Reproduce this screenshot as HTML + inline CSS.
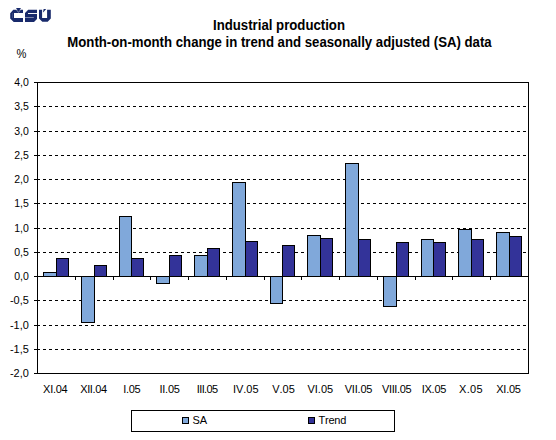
<!DOCTYPE html>
<html><head><meta charset="utf-8"><style>
html,body{margin:0;padding:0;background:#fff;width:556px;height:440px;overflow:hidden}
svg{display:block}
text{font-family:"Liberation Sans",sans-serif;font-size:11px;fill:#000;font-kerning:none}
.t{font-size:14.0px;font-weight:bold}
</style></head><body>
<svg width="556" height="440" viewBox="0 0 556 440">
<rect x="0" y="0" width="556" height="440" fill="#fff"/>
<g shape-rendering="crispEdges">
<line x1="37" y1="106.5" x2="528" y2="106.5" stroke="#000" stroke-width="1" stroke-dasharray="3 3"/>
<line x1="37" y1="131.5" x2="528" y2="131.5" stroke="#000" stroke-width="1" stroke-dasharray="3 3"/>
<line x1="37" y1="155.5" x2="528" y2="155.5" stroke="#000" stroke-width="1" stroke-dasharray="3 3"/>
<line x1="37" y1="179.5" x2="528" y2="179.5" stroke="#000" stroke-width="1" stroke-dasharray="3 3"/>
<line x1="37" y1="203.5" x2="528" y2="203.5" stroke="#000" stroke-width="1" stroke-dasharray="3 3"/>
<line x1="37" y1="228.5" x2="528" y2="228.5" stroke="#000" stroke-width="1" stroke-dasharray="3 3"/>
<line x1="37" y1="252.5" x2="528" y2="252.5" stroke="#000" stroke-width="1" stroke-dasharray="3 3"/>
<line x1="37" y1="276.5" x2="528" y2="276.5" stroke="#000" stroke-width="1" stroke-dasharray="3 3"/>
<line x1="37" y1="300.5" x2="528" y2="300.5" stroke="#000" stroke-width="1" stroke-dasharray="3 3"/>
<line x1="37" y1="325.5" x2="528" y2="325.5" stroke="#000" stroke-width="1" stroke-dasharray="3 3"/>
<line x1="37" y1="349.5" x2="528" y2="349.5" stroke="#000" stroke-width="1" stroke-dasharray="3 3"/>
<rect x="43" y="272" width="14" height="5" fill="#000"/>
<rect x="44" y="273" width="12" height="3" fill="#80A8DA"/>
<rect x="56" y="258" width="13" height="19" fill="#000"/>
<rect x="57" y="259" width="11" height="17" fill="#333399"/>
<rect x="81" y="276" width="14" height="47" fill="#000"/>
<rect x="82" y="277" width="12" height="45" fill="#80A8DA"/>
<rect x="94" y="265" width="13" height="12" fill="#000"/>
<rect x="95" y="266" width="11" height="10" fill="#333399"/>
<rect x="119" y="216" width="13" height="61" fill="#000"/>
<rect x="120" y="217" width="11" height="59" fill="#80A8DA"/>
<rect x="131" y="258" width="13" height="19" fill="#000"/>
<rect x="132" y="259" width="11" height="17" fill="#333399"/>
<rect x="156" y="276" width="14" height="8" fill="#000"/>
<rect x="157" y="277" width="12" height="6" fill="#80A8DA"/>
<rect x="169" y="255" width="13" height="22" fill="#000"/>
<rect x="170" y="256" width="11" height="20" fill="#333399"/>
<rect x="194" y="255" width="14" height="22" fill="#000"/>
<rect x="195" y="256" width="12" height="20" fill="#80A8DA"/>
<rect x="207" y="248" width="13" height="29" fill="#000"/>
<rect x="208" y="249" width="11" height="27" fill="#333399"/>
<rect x="232" y="182" width="14" height="95" fill="#000"/>
<rect x="233" y="183" width="12" height="93" fill="#80A8DA"/>
<rect x="245" y="241" width="13" height="36" fill="#000"/>
<rect x="246" y="242" width="11" height="34" fill="#333399"/>
<rect x="270" y="276" width="13" height="28" fill="#000"/>
<rect x="271" y="277" width="11" height="26" fill="#80A8DA"/>
<rect x="282" y="245" width="13" height="32" fill="#000"/>
<rect x="283" y="246" width="11" height="30" fill="#333399"/>
<rect x="307" y="235" width="14" height="42" fill="#000"/>
<rect x="308" y="236" width="12" height="40" fill="#80A8DA"/>
<rect x="320" y="238" width="13" height="39" fill="#000"/>
<rect x="321" y="239" width="11" height="37" fill="#333399"/>
<rect x="345" y="163" width="14" height="114" fill="#000"/>
<rect x="346" y="164" width="12" height="112" fill="#80A8DA"/>
<rect x="358" y="239" width="13" height="38" fill="#000"/>
<rect x="359" y="240" width="11" height="36" fill="#333399"/>
<rect x="383" y="276" width="14" height="31" fill="#000"/>
<rect x="384" y="277" width="12" height="29" fill="#80A8DA"/>
<rect x="396" y="242" width="13" height="35" fill="#000"/>
<rect x="397" y="243" width="11" height="33" fill="#333399"/>
<rect x="421" y="239" width="13" height="38" fill="#000"/>
<rect x="422" y="240" width="11" height="36" fill="#80A8DA"/>
<rect x="433" y="242" width="13" height="35" fill="#000"/>
<rect x="434" y="243" width="11" height="33" fill="#333399"/>
<rect x="458" y="229" width="14" height="48" fill="#000"/>
<rect x="459" y="230" width="12" height="46" fill="#80A8DA"/>
<rect x="471" y="239" width="13" height="38" fill="#000"/>
<rect x="472" y="240" width="11" height="36" fill="#333399"/>
<rect x="496" y="232" width="14" height="45" fill="#000"/>
<rect x="497" y="233" width="12" height="43" fill="#80A8DA"/>
<rect x="509" y="236" width="13" height="41" fill="#000"/>
<rect x="510" y="237" width="11" height="39" fill="#333399"/>
<rect x="37" y="276" width="492" height="1" fill="#000"/>
<rect x="75" y="277" width="1" height="3" fill="#000"/>
<rect x="113" y="277" width="1" height="3" fill="#000"/>
<rect x="150" y="277" width="1" height="3" fill="#000"/>
<rect x="188" y="277" width="1" height="3" fill="#000"/>
<rect x="226" y="277" width="1" height="3" fill="#000"/>
<rect x="264" y="277" width="1" height="3" fill="#000"/>
<rect x="301" y="277" width="1" height="3" fill="#000"/>
<rect x="339" y="277" width="1" height="3" fill="#000"/>
<rect x="377" y="277" width="1" height="3" fill="#000"/>
<rect x="415" y="277" width="1" height="3" fill="#000"/>
<rect x="452" y="277" width="1" height="3" fill="#000"/>
<rect x="490" y="277" width="1" height="3" fill="#000"/>
<rect x="37" y="82" width="492" height="1" fill="#000"/>
<rect x="37" y="373" width="492" height="1" fill="#000"/>
<rect x="37" y="82" width="1" height="292" fill="#000"/>
<rect x="528" y="82" width="1" height="292" fill="#000"/>
<rect x="34" y="82" width="3" height="1" fill="#000"/>
<rect x="34" y="106" width="3" height="1" fill="#000"/>
<rect x="34" y="131" width="3" height="1" fill="#000"/>
<rect x="34" y="155" width="3" height="1" fill="#000"/>
<rect x="34" y="179" width="3" height="1" fill="#000"/>
<rect x="34" y="203" width="3" height="1" fill="#000"/>
<rect x="34" y="228" width="3" height="1" fill="#000"/>
<rect x="34" y="252" width="3" height="1" fill="#000"/>
<rect x="34" y="276" width="3" height="1" fill="#000"/>
<rect x="34" y="300" width="3" height="1" fill="#000"/>
<rect x="34" y="325" width="3" height="1" fill="#000"/>
<rect x="34" y="349" width="3" height="1" fill="#000"/>
<rect x="34" y="373" width="3" height="1" fill="#000"/>
<rect x="131.5" y="410.5" width="263" height="21" fill="#fff" stroke="#000" stroke-width="1"/>
<rect x="182" y="417" width="7" height="7" fill="#000"/>
<rect x="183" y="418" width="5" height="5" fill="#80A8DA"/>
<rect x="308" y="417" width="7" height="7" fill="#000"/>
<rect x="309" y="418" width="5" height="5" fill="#333399"/>
</g>
<g fill="#182a6b">
<path d="M13.3 9.7 H23 V13 H14 V18 H23 V21.9 H13.7 L10.2 18.4 V13.2 Z"/>
<path d="M16 8 H21 L18.5 11.6 Z"/>
<path d="M16.2 9.5 L18.5 12.4 L20.8 9.5" fill="none" stroke="#fff" stroke-opacity="0.6" stroke-width="0.7"/>
<rect x="12" y="13" width="0.6" height="5" fill="#fff" fill-opacity="0.25"/>
<path d="M28.2 9.7 H37 V19 L34 21.9 H25 V13 Z"/>
<rect x="28" y="13.05" width="9.2" height="0.95" fill="#fff"/>
<rect x="24.8" y="17.1" width="9" height="0.8" fill="#fff" fill-opacity="0.55"/>
<path d="M39 9.7 H42.1 V18 H47.1 V9.7 H50.8 V18.6 L47.7 21.8 H42.3 L39 18.5 Z"/>
<path d="M43.6 9 H46.2 L43.4 12.3 H43 Z"/>
</g>
<text class="t" x="213.0" y="30.0" textLength="132" lengthAdjust="spacingAndGlyphs">Industrial production</text>
<text class="t" x="67.3203125" y="47.0" textLength="424.359375" lengthAdjust="spacingAndGlyphs">Month-on-month change in trend and seasonally adjusted (SA) data</text>
<text x="14.25" y="86" textLength="14.6" lengthAdjust="spacingAndGlyphs">4,0</text>
<text x="14.25" y="110" textLength="14.6" lengthAdjust="spacingAndGlyphs">3,5</text>
<text x="14.25" y="135" textLength="14.6" lengthAdjust="spacingAndGlyphs">3,0</text>
<text x="14.25" y="159" textLength="14.6" lengthAdjust="spacingAndGlyphs">2,5</text>
<text x="14.25" y="183" textLength="14.6" lengthAdjust="spacingAndGlyphs">2,0</text>
<text x="14.25" y="207" textLength="14.6" lengthAdjust="spacingAndGlyphs">1,5</text>
<text x="14.25" y="232" textLength="14.6" lengthAdjust="spacingAndGlyphs">1,0</text>
<text x="14.25" y="256" textLength="14.6" lengthAdjust="spacingAndGlyphs">0,5</text>
<text x="14.25" y="280" textLength="14.6" lengthAdjust="spacingAndGlyphs">0,0</text>
<text x="9.95" y="304" textLength="18.9" lengthAdjust="spacingAndGlyphs">-0,5</text>
<text x="9.95" y="329" textLength="18.9" lengthAdjust="spacingAndGlyphs">-1,0</text>
<text x="9.95" y="353" textLength="18.9" lengthAdjust="spacingAndGlyphs">-1,5</text>
<text x="9.95" y="377" textLength="18.9" lengthAdjust="spacingAndGlyphs">-2,0</text>
<text x="43.04" y="393" textLength="24.69" lengthAdjust="spacing">XI.04</text>
<text x="80.28" y="393" textLength="26.75" lengthAdjust="spacing">XII.04</text>
<text x="123.24" y="393" textLength="17.36" lengthAdjust="spacing">I.05</text>
<text x="159.49" y="393" textLength="20.41" lengthAdjust="spacing">II.05</text>
<text x="196.73" y="393" textLength="21.47" lengthAdjust="spacing">III.05</text>
<text x="232.89" y="393" textLength="25.69" lengthAdjust="spacing">IV.05</text>
<text x="272.18" y="393" textLength="22.64" lengthAdjust="spacing">V.05</text>
<text x="307.43" y="393" textLength="25.69" lengthAdjust="spacing">VI.05</text>
<text x="344.67" y="393" textLength="27.75" lengthAdjust="spacing">VII.05</text>
<text x="381.91" y="393" textLength="29.80" lengthAdjust="spacing">VIII.05</text>
<text x="421.73" y="393" textLength="24.69" lengthAdjust="spacing">IX.05</text>
<text x="459.02" y="393" textLength="23.64" lengthAdjust="spacing">X.05</text>
<text x="496.27" y="393" textLength="24.69" lengthAdjust="spacing">XI.05</text>
<text x="192.5" y="424">SA</text>
<text x="318.5" y="424" textLength="27.9" lengthAdjust="spacing">Trend</text>
<text x="16.6" y="57.5" style="font-size:12px" textLength="9.9" lengthAdjust="spacingAndGlyphs">%</text>
</svg>
</body></html>
